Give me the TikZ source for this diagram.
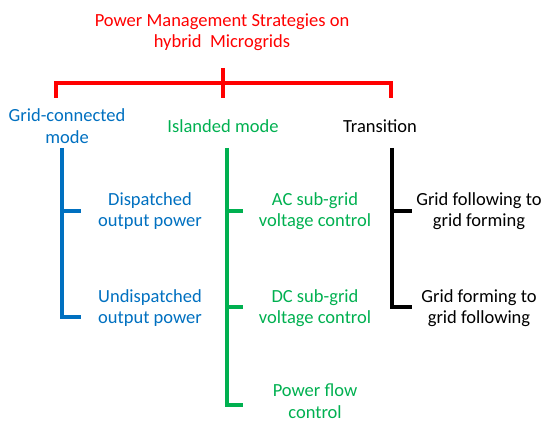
\documentclass[tikz,border=0pt]{standalone}
\usepackage{fontspec}
\setmainfont{Carlito}
\usetikzlibrary{positioning}
\definecolor{pmred}{RGB}{255,0,0}
\definecolor{pmblue}{RGB}{0,112,192}
\definecolor{pmgreen}{RGB}{0,176,80}

\begin{document}
\begin{tikzpicture}[x=1pt,y=-1pt,
  lbl/.style={align=center,inner sep=0pt,font=\fontsize{18.5}{21.5}\selectfont},
  bar/.style={line width=3.2pt}]
  \useasboundingbox (0,0) rectangle (550,422);
  % title and top bracket
  \node[lbl,text=pmred] (title) at (222,32) {Power Management Strategies on\\hybrid\ \ Microgrids};
  \coordinate (rtop) at (223,68);
  \coordinate (rmid) at (223,98);
  \coordinate (rl) at (56,98);
  \coordinate (rr) at (391,98);
  \draw[bar,pmred,line width=3.6pt] (rl) -- (rl |- 0,83) -- (rr |- 0,83) -- (rr);
  \draw[bar,pmred,line width=3.6pt] (rtop) -- (rmid);
  % modes
  \node[lbl,text=pmblue] (grid) at (67,126) {Grid-connected\\mode};
  \node[lbl,text=pmgreen] (island) at (223,126) {Islanded mode};
  \node[lbl] (trans) at (380,126) {Transition};
  % grid-connected branch
  \node[lbl,text=pmblue] (disp) at (150,211) {Dispatched\\output power};
  \node[lbl,text=pmblue] (undisp) at (150,308) {Undispatched\\output power};
  \coordinate (b0) at (62,148);
  \coordinate (b1) at (62,211);
  \coordinate (b2) at (62,317);
  \draw[bar,pmblue] (b0) -- (b2) -- ++(19,0);
  \draw[bar,pmblue] (b1) -- ++(19,0);
  % islanded branch
  \node[lbl,text=pmgreen] (acv) at (315,211) {AC sub-grid\\voltage control};
  \node[lbl,text=pmgreen] (dcv) at (315,308) {DC sub-grid\\voltage control};
  \node[lbl,text=pmgreen] (pflow) at (315,401) {Power flow\\control};
  \coordinate (g0) at (227,148);
  \coordinate (g1) at (227,211);
  \coordinate (g2) at (227,307);
  \coordinate (g3) at (227,405);
  \draw[bar,pmgreen] (g0) -- (g3) -- ++(16,0);
  \draw[bar,pmgreen] (g1) -- ++(16,0);
  \draw[bar,pmgreen] (g2) -- ++(16,0);
  % transition branch
  \node[lbl] (fl2fm) at (479,211) {Grid following to\\grid forming};
  \node[lbl] (fm2fl) at (479,308) {Grid forming to\\grid following};
  \coordinate (k0) at (392,148);
  \coordinate (k1) at (392,211);
  \coordinate (k2) at (392,307);
  \draw[bar] (k0) -- (k2) -- ++(20,0);
  \draw[bar] (k1) -- ++(20,0);
\end{tikzpicture}
\end{document}
